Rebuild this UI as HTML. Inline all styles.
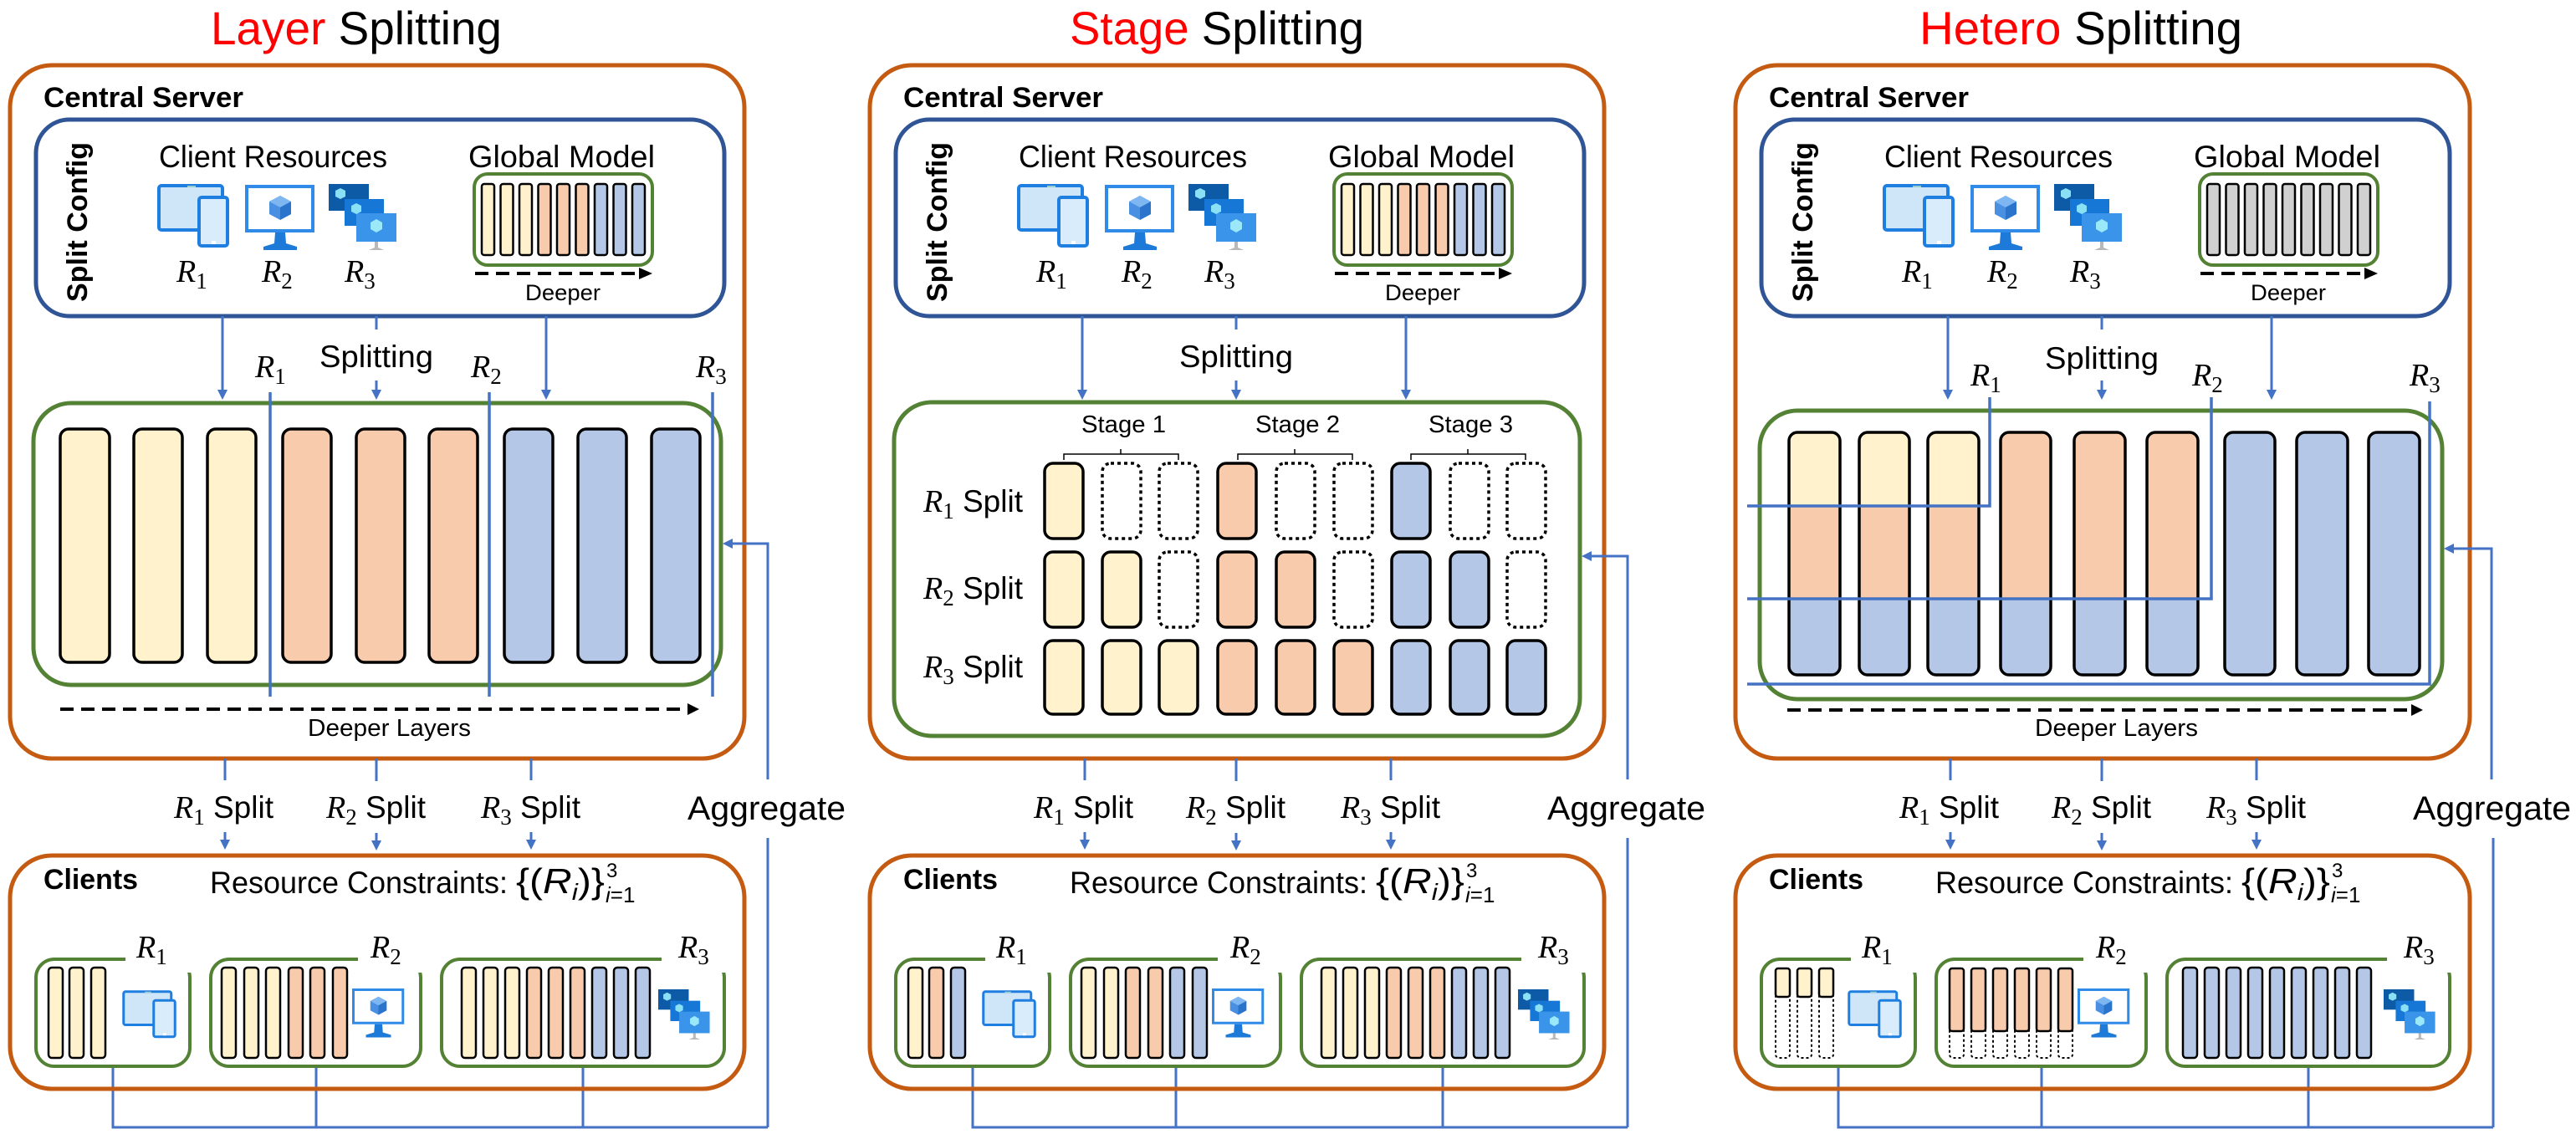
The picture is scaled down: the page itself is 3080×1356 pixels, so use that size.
<!DOCTYPE html>
<html><head><meta charset="utf-8"><style>
html,body{margin:0;padding:0;background:#fff;}
svg{display:block}
text{font-family:"Liberation Sans",sans-serif;fill:#000}
.b{font-weight:bold}
.m{font-family:"Liberation Serif",serif;font-style:italic}
</style></head><body>
<svg width="3080" height="1356" viewBox="0 0 3080 1356" xmlns="http://www.w3.org/2000/svg">
<defs>
<marker id="ad" markerWidth="4" markerHeight="4" refX="2" refY="2" orient="auto" markerUnits="strokeWidth"><path d="M0,0 L4,2 L0,4 z" fill="#4472C4"/></marker>
<g id="dev">
 <rect x="1" y="1" width="76" height="53" rx="3" fill="#cfe6f8" stroke="#1f7fe0" stroke-width="4"/>
 <rect x="35" y="1" width="10" height="2" fill="#9cc"/>
 <rect x="49" y="15" width="34" height="58" rx="3" fill="#d8ecfb" stroke="#1f7fe0" stroke-width="4"/>
 <rect x="64" y="67" width="5" height="4" fill="#fff"/>
</g>
<g id="mon">
 <rect x="2" y="2" width="79" height="53" fill="#fff" stroke="#2f8ae8" stroke-width="4"/>
 <path d="M42,13 L55,20 L55,35 L42,42 L29,35 L29,20 z" fill="#4a90e2"/>
 <path d="M42,13 L55,20 L42,27 L29,20 z" fill="#7db6f0"/>
 <path d="M42,27 L55,20 L55,35 L42,42 z" fill="#2a74cc"/>
 <path d="M36,57 L48,57 L49,70 L62,74 L62,78 L22,78 L22,74 L35,70 z" fill="#1e7ad8"/>
</g>
<g id="stk">
 <rect x="0" y="0" width="48" height="32" fill="#0d5aa7"/>
 <rect x="19" y="18" width="47" height="32" fill="#1777d6"/>
 <rect x="33" y="35" width="48" height="34" fill="#3a94ea"/>
 <path d="M14,5 L20,8 L20,15 L14,18 L8,15 L8,8 z" fill="#8ae0f5"/>
 <path d="M33,23 L39,26 L39,33 L33,36 L27,33 L27,26 z" fill="#8ae0f5"/>
 <path d="M57,42 L64,46 L64,54 L57,58 L50,54 L50,46 z" fill="#9ae8f8"/>
 <path d="M55,69 L59,69 L59,76 L66,79 L48,79 L55,76 z" fill="#b8b8b8"/>
</g>
<g id="common">
 <rect x="12" y="78" width="878" height="829" rx="50" fill="none" stroke="#C55A11" stroke-width="5"/>
 <rect x="43" y="143" width="823" height="235" rx="40" fill="none" stroke="#2F5597" stroke-width="5"/>
 <use href="#dev" x="189" y="221"/>
 <use href="#mon" x="293" y="221"/>
 <use href="#stk" x="393" y="220"/>
 <rect x="567" y="208" width="213" height="109" rx="16" fill="none" stroke="#548235" stroke-width="4"/>
 <line x1="568" y1="327" x2="766" y2="327" stroke="#000" stroke-width="4" stroke-dasharray="16 9"/>
 <path d="M764,320 L780,327 L764,334 z" fill="#000"/>
 <g stroke="#4472C4" stroke-width="3" fill="none">
  <line x1="266" y1="378" x2="266" y2="472" marker-end="url(#ad)"/>
  <line x1="450" y1="378" x2="450" y2="394"/>
  <line x1="450" y1="455" x2="450" y2="472" marker-end="url(#ad)"/>
  <line x1="653" y1="378" x2="653" y2="472" marker-end="url(#ad)"/>
  <line x1="269" y1="907" x2="269" y2="933"/>
  <line x1="450" y1="907" x2="450" y2="934"/>
  <line x1="635" y1="907" x2="635" y2="933"/>
  <line x1="269" y1="995" x2="269" y2="1010" marker-end="url(#ad)"/>
  <line x1="450" y1="996" x2="450" y2="1011" marker-end="url(#ad)"/>
  <line x1="635" y1="995" x2="635" y2="1010" marker-end="url(#ad)"/>
  <line x1="918" y1="1002" x2="918" y2="1348"/>
  <polyline points="135,1275 135,1348 918,1348"/>
  <line x1="378" y1="1275" x2="378" y2="1348"/>
  <line x1="697" y1="1275" x2="697" y2="1348"/>
 </g>
 <rect x="12" y="1023" width="878" height="279" rx="50" fill="none" stroke="#C55A11" stroke-width="5"/>
 <rect x="43" y="1147" width="184" height="128" rx="22" fill="none" stroke="#548235" stroke-width="4"/>
 <rect x="252" y="1147" width="251" height="128" rx="22" fill="none" stroke="#548235" stroke-width="4"/>
 <rect x="528" y="1147" width="338" height="128" rx="22" fill="none" stroke="#548235" stroke-width="4"/>
 <rect x="150" y="1138" width="82" height="25" fill="#fff"/>
 <rect x="428" y="1138" width="80" height="25" fill="#fff"/>
 <rect x="791" y="1138" width="79" height="25" fill="#fff"/>
 <use href="#dev" transform="translate(147,1185) scale(0.75)"/>
 <use href="#mon" transform="translate(421,1182) scale(0.75)"/>
 <use href="#stk" transform="translate(787,1183) scale(0.76)"/>
</g>
</defs>

<!-- ============ PANEL 1 ============ -->
<g>
<use href="#common"/>
<text x="252" y="53" font-size="56" textLength="348" lengthAdjust="spacingAndGlyphs"><tspan fill="#FF0000">Layer</tspan> Splitting</text>
<text x="52" y="128" class="b" font-size="34" textLength="239" lengthAdjust="spacingAndGlyphs">Central Server</text>
<text transform="translate(104,361) rotate(-90)" class="b" font-size="34" textLength="191" lengthAdjust="spacingAndGlyphs">Split Config</text>
<text x="190" y="200" font-size="37" textLength="273" lengthAdjust="spacingAndGlyphs">Client Resources</text>
<text x="560" y="200" font-size="37" textLength="223" lengthAdjust="spacingAndGlyphs">Global Model</text>
<text x="211" y="337" class="m" font-size="38">R<tspan font-style="normal" font-size="27" dy="8">1</tspan></text>
<text x="313" y="337" class="m" font-size="38">R<tspan font-style="normal" font-size="27" dy="8">2</tspan></text>
<text x="412" y="337" class="m" font-size="38">R<tspan font-style="normal" font-size="27" dy="8">3</tspan></text>
<g stroke="#000" stroke-width="2.5">
<rect x="576" y="220" width="15" height="85" rx="3" fill="#FFF2CC"/><rect x="598.5" y="220" width="15" height="85" rx="3" fill="#FFF2CC"/><rect x="621" y="220" width="15" height="85" rx="3" fill="#FFF2CC"/>
<rect x="643.5" y="220" width="15" height="85" rx="3" fill="#F8CBAD"/><rect x="666" y="220" width="15" height="85" rx="3" fill="#F8CBAD"/><rect x="688.5" y="220" width="15" height="85" rx="3" fill="#F8CBAD"/>
<rect x="711" y="220" width="15" height="85" rx="3" fill="#B4C7E7"/><rect x="733.5" y="220" width="15" height="85" rx="3" fill="#B4C7E7"/><rect x="756" y="220" width="15" height="85" rx="3" fill="#B4C7E7"/>
</g>
<text x="628" y="359" font-size="27" textLength="90" lengthAdjust="spacingAndGlyphs">Deeper</text>
<text x="382" y="439" font-size="37" textLength="136" lengthAdjust="spacingAndGlyphs">Splitting</text>
<text x="305" y="451" class="m" font-size="38">R<tspan font-style="normal" font-size="27" dy="8">1</tspan></text>
<text x="563" y="451" class="m" font-size="38">R<tspan font-style="normal" font-size="27" dy="8">2</tspan></text>
<text x="832" y="451" class="m" font-size="38">R<tspan font-style="normal" font-size="27" dy="8">3</tspan></text>
<rect x="40" y="482" width="822" height="337" rx="45" fill="none" stroke="#548235" stroke-width="5"/>
<g stroke="#000" stroke-width="3.5">
<rect x="72" y="513" width="59" height="279" rx="10" fill="#FFF2CC"/><rect x="160" y="513" width="58" height="279" rx="10" fill="#FFF2CC"/><rect x="248" y="513" width="58" height="279" rx="10" fill="#FFF2CC"/>
<rect x="338" y="513" width="58" height="279" rx="10" fill="#F8CBAD"/><rect x="426" y="513" width="58" height="279" rx="10" fill="#F8CBAD"/><rect x="513" y="513" width="58" height="279" rx="10" fill="#F8CBAD"/>
<rect x="603" y="513" width="58" height="279" rx="10" fill="#B4C7E7"/><rect x="691" y="513" width="58" height="279" rx="10" fill="#B4C7E7"/><rect x="779" y="513" width="58" height="279" rx="10" fill="#B4C7E7"/>
</g>
<g stroke="#4472C4" stroke-width="3.5"><line x1="323" y1="469" x2="323" y2="833"/><line x1="585" y1="469" x2="585" y2="833"/><line x1="852" y1="469" x2="852" y2="833"/></g>
<line x1="72" y1="848" x2="822" y2="848" stroke="#000" stroke-width="4" stroke-dasharray="16 9"/>
<path d="M822,841 L836,848 L822,855 z" fill="#000"/>
<text x="368" y="880" font-size="29" textLength="195" lengthAdjust="spacingAndGlyphs">Deeper Layers</text>
<polyline points="918,932 918,650 870,650" fill="none" stroke="#4472C4" stroke-width="3" marker-end="url(#ad)"/>
</g>

<!-- ============ PANEL 2 ============ -->
<g transform="translate(1028,0)">
<use href="#common"/>
<text x="251" y="53" font-size="56" textLength="352" lengthAdjust="spacingAndGlyphs"><tspan fill="#FF0000">Stage</tspan> Splitting</text>
<text x="52" y="128" class="b" font-size="34" textLength="239" lengthAdjust="spacingAndGlyphs">Central Server</text>
<text transform="translate(104,361) rotate(-90)" class="b" font-size="34" textLength="191" lengthAdjust="spacingAndGlyphs">Split Config</text>
<text x="190" y="200" font-size="37" textLength="273" lengthAdjust="spacingAndGlyphs">Client Resources</text>
<text x="560" y="200" font-size="37" textLength="223" lengthAdjust="spacingAndGlyphs">Global Model</text>
<text x="211" y="337" class="m" font-size="38">R<tspan font-style="normal" font-size="27" dy="8">1</tspan></text>
<text x="313" y="337" class="m" font-size="38">R<tspan font-style="normal" font-size="27" dy="8">2</tspan></text>
<text x="412" y="337" class="m" font-size="38">R<tspan font-style="normal" font-size="27" dy="8">3</tspan></text>
<g stroke="#000" stroke-width="2.5">
<rect x="576" y="220" width="15" height="85" rx="3" fill="#FFF2CC"/><rect x="598.5" y="220" width="15" height="85" rx="3" fill="#FFF2CC"/><rect x="621" y="220" width="15" height="85" rx="3" fill="#FFF2CC"/>
<rect x="643.5" y="220" width="15" height="85" rx="3" fill="#F8CBAD"/><rect x="666" y="220" width="15" height="85" rx="3" fill="#F8CBAD"/><rect x="688.5" y="220" width="15" height="85" rx="3" fill="#F8CBAD"/>
<rect x="711" y="220" width="15" height="85" rx="3" fill="#B4C7E7"/><rect x="733.5" y="220" width="15" height="85" rx="3" fill="#B4C7E7"/><rect x="756" y="220" width="15" height="85" rx="3" fill="#B4C7E7"/>
</g>
<text x="628" y="359" font-size="27" textLength="90" lengthAdjust="spacingAndGlyphs">Deeper</text>
<text x="382" y="439" font-size="37" textLength="136" lengthAdjust="spacingAndGlyphs">Splitting</text>
<rect x="41" y="481" width="820" height="399" rx="45" fill="none" stroke="#548235" stroke-width="5"/>
<text x="265" y="517" font-size="29" textLength="101" lengthAdjust="spacingAndGlyphs">Stage 1</text>
<text x="473" y="517" font-size="29" textLength="101" lengthAdjust="spacingAndGlyphs">Stage 2</text>
<text x="680" y="517" font-size="29" textLength="101" lengthAdjust="spacingAndGlyphs">Stage 3</text>
<g stroke="#000" stroke-width="1.5" fill="none">
<path d="M244,550 L244,543 L381,543 L381,550 M312,543 L312,537"/>
<path d="M452,550 L452,543 L589,543 L589,550 M520,543 L520,537"/>
<path d="M659,550 L659,543 L796,543 L796,550 M727,543 L727,537"/>
</g>
<text x="76" y="612" class="m" font-size="38">R<tspan font-style="normal" font-size="27" dy="8">1</tspan><tspan dy="-8" font-family="Liberation Sans" font-style="normal" font-size="37"> Split</tspan></text>
<text x="76" y="716" class="m" font-size="38">R<tspan font-style="normal" font-size="27" dy="8">2</tspan><tspan dy="-8" font-family="Liberation Sans" font-style="normal" font-size="37"> Split</tspan></text>
<text x="76" y="810" class="m" font-size="38">R<tspan font-style="normal" font-size="27" dy="8">3</tspan><tspan dy="-8" font-family="Liberation Sans" font-style="normal" font-size="37"> Split</tspan></text>
<g stroke="#000" stroke-width="3.5">
<rect x="221" y="554" width="46" height="90" rx="10" fill="#FFF2CC"/>
<rect x="290" y="554" width="46" height="90" rx="10" fill="none" stroke-dasharray="4 4"/>
<rect x="358" y="554" width="46" height="90" rx="10" fill="none" stroke-dasharray="4 4"/>
<rect x="428" y="554" width="46" height="90" rx="10" fill="#F8CBAD"/>
<rect x="498" y="554" width="46" height="90" rx="10" fill="none" stroke-dasharray="4 4"/>
<rect x="567" y="554" width="46" height="90" rx="10" fill="none" stroke-dasharray="4 4"/>
<rect x="636" y="554" width="46" height="90" rx="10" fill="#B4C7E7"/>
<rect x="706" y="554" width="46" height="90" rx="10" fill="none" stroke-dasharray="4 4"/>
<rect x="774" y="554" width="46" height="90" rx="10" fill="none" stroke-dasharray="4 4"/>
<rect x="221" y="660" width="46" height="90" rx="10" fill="#FFF2CC"/>
<rect x="290" y="660" width="46" height="90" rx="10" fill="#FFF2CC"/>
<rect x="358" y="660" width="46" height="90" rx="10" fill="none" stroke-dasharray="4 4"/>
<rect x="428" y="660" width="46" height="90" rx="10" fill="#F8CBAD"/>
<rect x="498" y="660" width="46" height="90" rx="10" fill="#F8CBAD"/>
<rect x="567" y="660" width="46" height="90" rx="10" fill="none" stroke-dasharray="4 4"/>
<rect x="636" y="660" width="46" height="90" rx="10" fill="#B4C7E7"/>
<rect x="706" y="660" width="46" height="90" rx="10" fill="#B4C7E7"/>
<rect x="774" y="660" width="46" height="90" rx="10" fill="none" stroke-dasharray="4 4"/>
<rect x="221" y="766" width="46" height="88" rx="10" fill="#FFF2CC"/>
<rect x="290" y="766" width="46" height="88" rx="10" fill="#FFF2CC"/>
<rect x="358" y="766" width="46" height="88" rx="10" fill="#FFF2CC"/>
<rect x="428" y="766" width="46" height="88" rx="10" fill="#F8CBAD"/>
<rect x="498" y="766" width="46" height="88" rx="10" fill="#F8CBAD"/>
<rect x="567" y="766" width="46" height="88" rx="10" fill="#F8CBAD"/>
<rect x="636" y="766" width="46" height="88" rx="10" fill="#B4C7E7"/>
<rect x="706" y="766" width="46" height="88" rx="10" fill="#B4C7E7"/>
<rect x="774" y="766" width="46" height="88" rx="10" fill="#B4C7E7"/>
</g>
<polyline points="918,932 918,665 869,665" fill="none" stroke="#4472C4" stroke-width="3" marker-end="url(#ad)"/>
</g>

<!-- ============ PANEL 3 ============ -->
<g transform="translate(2063,0)">
<use href="#common"/>
<text x="232" y="53" font-size="56" textLength="386" lengthAdjust="spacingAndGlyphs"><tspan fill="#FF0000">Hetero</tspan> Splitting</text>
<text x="52" y="128" class="b" font-size="34" textLength="239" lengthAdjust="spacingAndGlyphs">Central Server</text>
<text transform="translate(104,361) rotate(-90)" class="b" font-size="34" textLength="191" lengthAdjust="spacingAndGlyphs">Split Config</text>
<text x="190" y="200" font-size="37" textLength="273" lengthAdjust="spacingAndGlyphs">Client Resources</text>
<text x="560" y="200" font-size="37" textLength="223" lengthAdjust="spacingAndGlyphs">Global Model</text>
<text x="211" y="337" class="m" font-size="38">R<tspan font-style="normal" font-size="27" dy="8">1</tspan></text>
<text x="313" y="337" class="m" font-size="38">R<tspan font-style="normal" font-size="27" dy="8">2</tspan></text>
<text x="412" y="337" class="m" font-size="38">R<tspan font-style="normal" font-size="27" dy="8">3</tspan></text>
<g stroke="#000" stroke-width="2.5" fill="#D0D0D0">
<rect x="576" y="220" width="15" height="85" rx="3"/><rect x="598.5" y="220" width="15" height="85" rx="3"/><rect x="621" y="220" width="15" height="85" rx="3"/>
<rect x="643.5" y="220" width="15" height="85" rx="3"/><rect x="666" y="220" width="15" height="85" rx="3"/><rect x="688.5" y="220" width="15" height="85" rx="3"/>
<rect x="711" y="220" width="15" height="85" rx="3"/><rect x="733.5" y="220" width="15" height="85" rx="3"/><rect x="756" y="220" width="15" height="85" rx="3"/>
</g>
<text x="628" y="359" font-size="27" textLength="90" lengthAdjust="spacingAndGlyphs">Deeper</text>
<text x="382" y="441" font-size="37" textLength="136" lengthAdjust="spacingAndGlyphs">Splitting</text>
<text x="293" y="461" class="m" font-size="38">R<tspan font-style="normal" font-size="27" dy="8">1</tspan></text>
<text x="558" y="461" class="m" font-size="38">R<tspan font-style="normal" font-size="27" dy="8">2</tspan></text>
<text x="818" y="461" class="m" font-size="38">R<tspan font-style="normal" font-size="27" dy="8">3</tspan></text>
<rect x="41" y="491" width="816" height="345" rx="45" fill="none" stroke="#548235" stroke-width="5"/>
<g>
<rect x="76" y="517" width="61" height="290" rx="10" fill="#B4C7E7"/><rect x="76" y="517" width="61" height="199" rx="10" fill="#F8CBAD"/><rect x="76" y="700" width="61" height="16" fill="#F8CBAD"/><rect x="76" y="517" width="61" height="88" rx="10" fill="#FFF2CC"/><rect x="76" y="590" width="61" height="15" fill="#FFF2CC"/>
<rect x="160" y="517" width="60" height="290" rx="10" fill="#B4C7E7"/><rect x="160" y="517" width="60" height="199" rx="10" fill="#F8CBAD"/><rect x="160" y="700" width="60" height="16" fill="#F8CBAD"/><rect x="160" y="517" width="60" height="88" rx="10" fill="#FFF2CC"/><rect x="160" y="590" width="60" height="15" fill="#FFF2CC"/>
<rect x="242" y="517" width="61" height="290" rx="10" fill="#B4C7E7"/><rect x="242" y="517" width="61" height="199" rx="10" fill="#F8CBAD"/><rect x="242" y="700" width="61" height="16" fill="#F8CBAD"/><rect x="242" y="517" width="61" height="88" rx="10" fill="#FFF2CC"/><rect x="242" y="590" width="61" height="15" fill="#FFF2CC"/>
<rect x="329" y="517" width="60" height="290" rx="10" fill="#B4C7E7"/><rect x="329" y="517" width="60" height="199" rx="10" fill="#F8CBAD"/><rect x="329" y="700" width="60" height="16" fill="#F8CBAD"/>
<rect x="417" y="517" width="61" height="290" rx="10" fill="#B4C7E7"/><rect x="417" y="517" width="61" height="199" rx="10" fill="#F8CBAD"/><rect x="417" y="700" width="61" height="16" fill="#F8CBAD"/>
<rect x="504" y="517" width="61" height="290" rx="10" fill="#B4C7E7"/><rect x="504" y="517" width="61" height="199" rx="10" fill="#F8CBAD"/><rect x="504" y="700" width="61" height="16" fill="#F8CBAD"/>
<rect x="597" y="517" width="60" height="290" rx="10" fill="#B4C7E7"/>
<rect x="683" y="517" width="61" height="290" rx="10" fill="#B4C7E7"/>
<rect x="769" y="517" width="61" height="290" rx="10" fill="#B4C7E7"/>
</g>
<g stroke="#000" stroke-width="3.5" fill="none">
<rect x="76" y="517" width="61" height="290" rx="10"/><rect x="160" y="517" width="60" height="290" rx="10"/><rect x="242" y="517" width="61" height="290" rx="10"/>
<rect x="329" y="517" width="60" height="290" rx="10"/><rect x="417" y="517" width="61" height="290" rx="10"/><rect x="504" y="517" width="61" height="290" rx="10"/>
<rect x="597" y="517" width="60" height="290" rx="10"/><rect x="683" y="517" width="61" height="290" rx="10"/><rect x="769" y="517" width="61" height="290" rx="10"/>
</g>
<g stroke="#4472C4" stroke-width="3.5" fill="none">
<polyline points="26,605 316,605 316,475"/>
<polyline points="26,716 581,716 581,475"/>
<polyline points="26,818 842,818 842,480"/>
</g>
<line x1="74" y1="849" x2="820" y2="849" stroke="#000" stroke-width="4" stroke-dasharray="16 9"/>
<path d="M820,842 L834,849 L820,856 z" fill="#000"/>
<text x="370" y="880" font-size="29" textLength="195" lengthAdjust="spacingAndGlyphs">Deeper Layers</text>
<polyline points="916,932 916,656 865,656" fill="none" stroke="#4472C4" stroke-width="3" marker-end="url(#ad)"/>
</g>

<!-- ============ LOWER TEXT ============ -->
<g>
<text x="208" y="978" class="m" font-size="38">R<tspan font-style="normal" font-size="27" dy="8">1</tspan><tspan dy="-8" font-family="Liberation Sans" font-style="normal" font-size="37"> Split</tspan></text>
<text x="390" y="978" class="m" font-size="38">R<tspan font-style="normal" font-size="27" dy="8">2</tspan><tspan dy="-8" font-family="Liberation Sans" font-style="normal" font-size="37"> Split</tspan></text>
<text x="575" y="978" class="m" font-size="38">R<tspan font-style="normal" font-size="27" dy="8">3</tspan><tspan dy="-8" font-family="Liberation Sans" font-style="normal" font-size="37"> Split</tspan></text>
<text x="822" y="980" font-size="40" textLength="189" lengthAdjust="spacingAndGlyphs">Aggregate</text>
<text x="52" y="1063" class="b" font-size="34" textLength="113" lengthAdjust="spacingAndGlyphs">Clients</text>
<text x="251" y="1068" font-size="37" textLength="356" lengthAdjust="spacingAndGlyphs">Resource Constraints:</text>
<text x="617" y="1068" font-family="Liberation Serif" font-size="42" textLength="106" lengthAdjust="spacingAndGlyphs">{(<tspan font-style="italic">R</tspan><tspan font-style="italic" font-size="28" dy="8">i</tspan><tspan dy="-8">)}</tspan></text>
<text x="725" y="1049" font-family="Liberation Serif" font-size="24">3</text>
<text x="724" y="1079" font-family="Liberation Serif" font-size="26"><tspan font-style="italic">i</tspan>=1</text>
<text x="163" y="1145" class="m" font-size="38">R<tspan font-style="normal" font-size="27" dy="8">1</tspan></text>
<text x="443" y="1145" class="m" font-size="38">R<tspan font-style="normal" font-size="27" dy="8">2</tspan></text>
<text x="811" y="1145" class="m" font-size="38">R<tspan font-style="normal" font-size="27" dy="8">3</tspan></text>
</g>
<g transform="translate(1028,0)">
<text x="208" y="978" class="m" font-size="38">R<tspan font-style="normal" font-size="27" dy="8">1</tspan><tspan dy="-8" font-family="Liberation Sans" font-style="normal" font-size="37"> Split</tspan></text>
<text x="390" y="978" class="m" font-size="38">R<tspan font-style="normal" font-size="27" dy="8">2</tspan><tspan dy="-8" font-family="Liberation Sans" font-style="normal" font-size="37"> Split</tspan></text>
<text x="575" y="978" class="m" font-size="38">R<tspan font-style="normal" font-size="27" dy="8">3</tspan><tspan dy="-8" font-family="Liberation Sans" font-style="normal" font-size="37"> Split</tspan></text>
<text x="822" y="980" font-size="40" textLength="189" lengthAdjust="spacingAndGlyphs">Aggregate</text>
<text x="52" y="1063" class="b" font-size="34" textLength="113" lengthAdjust="spacingAndGlyphs">Clients</text>
<text x="251" y="1068" font-size="37" textLength="356" lengthAdjust="spacingAndGlyphs">Resource Constraints:</text>
<text x="617" y="1068" font-family="Liberation Serif" font-size="42" textLength="106" lengthAdjust="spacingAndGlyphs">{(<tspan font-style="italic">R</tspan><tspan font-style="italic" font-size="28" dy="8">i</tspan><tspan dy="-8">)}</tspan></text>
<text x="725" y="1049" font-family="Liberation Serif" font-size="24">3</text>
<text x="724" y="1079" font-family="Liberation Serif" font-size="26"><tspan font-style="italic">i</tspan>=1</text>
<text x="163" y="1145" class="m" font-size="38">R<tspan font-style="normal" font-size="27" dy="8">1</tspan></text>
<text x="443" y="1145" class="m" font-size="38">R<tspan font-style="normal" font-size="27" dy="8">2</tspan></text>
<text x="811" y="1145" class="m" font-size="38">R<tspan font-style="normal" font-size="27" dy="8">3</tspan></text>
</g>
<g transform="translate(2063,0)">
<text x="208" y="978" class="m" font-size="38">R<tspan font-style="normal" font-size="27" dy="8">1</tspan><tspan dy="-8" font-family="Liberation Sans" font-style="normal" font-size="37"> Split</tspan></text>
<text x="390" y="978" class="m" font-size="38">R<tspan font-style="normal" font-size="27" dy="8">2</tspan><tspan dy="-8" font-family="Liberation Sans" font-style="normal" font-size="37"> Split</tspan></text>
<text x="575" y="978" class="m" font-size="38">R<tspan font-style="normal" font-size="27" dy="8">3</tspan><tspan dy="-8" font-family="Liberation Sans" font-style="normal" font-size="37"> Split</tspan></text>
<text x="822" y="980" font-size="40" textLength="189" lengthAdjust="spacingAndGlyphs">Aggregate</text>
<text x="52" y="1063" class="b" font-size="34" textLength="113" lengthAdjust="spacingAndGlyphs">Clients</text>
<text x="251" y="1068" font-size="37" textLength="356" lengthAdjust="spacingAndGlyphs">Resource Constraints:</text>
<text x="617" y="1068" font-family="Liberation Serif" font-size="42" textLength="106" lengthAdjust="spacingAndGlyphs">{(<tspan font-style="italic">R</tspan><tspan font-style="italic" font-size="28" dy="8">i</tspan><tspan dy="-8">)}</tspan></text>
<text x="725" y="1049" font-family="Liberation Serif" font-size="24">3</text>
<text x="724" y="1079" font-family="Liberation Serif" font-size="26"><tspan font-style="italic">i</tspan>=1</text>
<text x="163" y="1145" class="m" font-size="38">R<tspan font-style="normal" font-size="27" dy="8">1</tspan></text>
<text x="443" y="1145" class="m" font-size="38">R<tspan font-style="normal" font-size="27" dy="8">2</tspan></text>
<text x="811" y="1145" class="m" font-size="38">R<tspan font-style="normal" font-size="27" dy="8">3</tspan></text>
</g>

<!-- ============ CLIENT BARS ============ -->
<g stroke="#000" stroke-width="2.5">
<rect x="58" y="1157" width="17" height="108" rx="4" fill="#FFF2CC"/><rect x="83" y="1157" width="17" height="108" rx="4" fill="#FFF2CC"/><rect x="109" y="1157" width="17" height="108" rx="4" fill="#FFF2CC"/>
<rect x="265" y="1157" width="17" height="108" rx="4" fill="#FFF2CC"/><rect x="292" y="1157" width="17" height="108" rx="4" fill="#FFF2CC"/><rect x="318" y="1157" width="17" height="108" rx="4" fill="#FFF2CC"/><rect x="345" y="1157" width="17" height="108" rx="4" fill="#F8CBAD"/><rect x="371" y="1157" width="17" height="108" rx="4" fill="#F8CBAD"/><rect x="398" y="1157" width="17" height="108" rx="4" fill="#F8CBAD"/>
<rect x="552" y="1157" width="17" height="108" rx="4" fill="#FFF2CC"/><rect x="578" y="1157" width="17" height="108" rx="4" fill="#FFF2CC"/><rect x="604" y="1157" width="17" height="108" rx="4" fill="#FFF2CC"/><rect x="630" y="1157" width="17" height="108" rx="4" fill="#F8CBAD"/><rect x="656" y="1157" width="17" height="108" rx="4" fill="#F8CBAD"/><rect x="682" y="1157" width="17" height="108" rx="4" fill="#F8CBAD"/><rect x="708" y="1157" width="17" height="108" rx="4" fill="#B4C7E7"/><rect x="734" y="1157" width="17" height="108" rx="4" fill="#B4C7E7"/><rect x="760" y="1157" width="17" height="108" rx="4" fill="#B4C7E7"/>
</g>
<g stroke="#000" stroke-width="2.5" transform="translate(1028,0)">
<rect x="58" y="1157" width="17" height="108" rx="4" fill="#FFF2CC"/><rect x="83" y="1157" width="17" height="108" rx="4" fill="#F8CBAD"/><rect x="109" y="1157" width="17" height="108" rx="4" fill="#B4C7E7"/>
<rect x="265" y="1157" width="17" height="108" rx="4" fill="#FFF2CC"/><rect x="292" y="1157" width="17" height="108" rx="4" fill="#FFF2CC"/><rect x="318" y="1157" width="17" height="108" rx="4" fill="#F8CBAD"/><rect x="345" y="1157" width="17" height="108" rx="4" fill="#F8CBAD"/><rect x="371" y="1157" width="17" height="108" rx="4" fill="#B4C7E7"/><rect x="398" y="1157" width="17" height="108" rx="4" fill="#B4C7E7"/>
<rect x="552" y="1157" width="17" height="108" rx="4" fill="#FFF2CC"/><rect x="578" y="1157" width="17" height="108" rx="4" fill="#FFF2CC"/><rect x="604" y="1157" width="17" height="108" rx="4" fill="#FFF2CC"/><rect x="630" y="1157" width="17" height="108" rx="4" fill="#F8CBAD"/><rect x="656" y="1157" width="17" height="108" rx="4" fill="#F8CBAD"/><rect x="682" y="1157" width="17" height="108" rx="4" fill="#F8CBAD"/><rect x="708" y="1157" width="17" height="108" rx="4" fill="#B4C7E7"/><rect x="734" y="1157" width="17" height="108" rx="4" fill="#B4C7E7"/><rect x="760" y="1157" width="17" height="108" rx="4" fill="#B4C7E7"/>
</g>
<g stroke="#000" stroke-width="2.5" transform="translate(2063,0)">
<g fill="none" stroke-dasharray="3 3" stroke-width="2">
<rect x="60" y="1158" width="17" height="107" rx="4"/><rect x="86" y="1158" width="17" height="107" rx="4"/><rect x="112" y="1158" width="17" height="107" rx="4"/>
<rect x="268" y="1158" width="17" height="107" rx="4"/><rect x="294" y="1158" width="17" height="107" rx="4"/><rect x="320" y="1158" width="17" height="107" rx="4"/><rect x="346" y="1158" width="17" height="107" rx="4"/><rect x="372" y="1158" width="17" height="107" rx="4"/><rect x="398" y="1158" width="17" height="107" rx="4"/>
</g>
<rect x="60" y="1158" width="17" height="34" rx="3" fill="#FFF2CC"/><rect x="86" y="1158" width="17" height="34" rx="3" fill="#FFF2CC"/><rect x="112" y="1158" width="17" height="34" rx="3" fill="#FFF2CC"/>
<rect x="268" y="1158" width="17" height="75" rx="3" fill="#F8CBAD"/><rect x="294" y="1158" width="17" height="75" rx="3" fill="#F8CBAD"/><rect x="320" y="1158" width="17" height="75" rx="3" fill="#F8CBAD"/><rect x="346" y="1158" width="17" height="75" rx="3" fill="#F8CBAD"/><rect x="372" y="1158" width="17" height="75" rx="3" fill="#F8CBAD"/><rect x="398" y="1158" width="17" height="75" rx="3" fill="#F8CBAD"/>
<rect x="547" y="1157" width="17" height="108" rx="4" fill="#B4C7E7"/><rect x="573" y="1157" width="17" height="108" rx="4" fill="#B4C7E7"/><rect x="599" y="1157" width="17" height="108" rx="4" fill="#B4C7E7"/><rect x="625" y="1157" width="17" height="108" rx="4" fill="#B4C7E7"/><rect x="651" y="1157" width="17" height="108" rx="4" fill="#B4C7E7"/><rect x="677" y="1157" width="17" height="108" rx="4" fill="#B4C7E7"/><rect x="703" y="1157" width="17" height="108" rx="4" fill="#B4C7E7"/><rect x="729" y="1157" width="17" height="108" rx="4" fill="#B4C7E7"/><rect x="755" y="1157" width="17" height="108" rx="4" fill="#B4C7E7"/>
</g>
</svg>
</body></html>
